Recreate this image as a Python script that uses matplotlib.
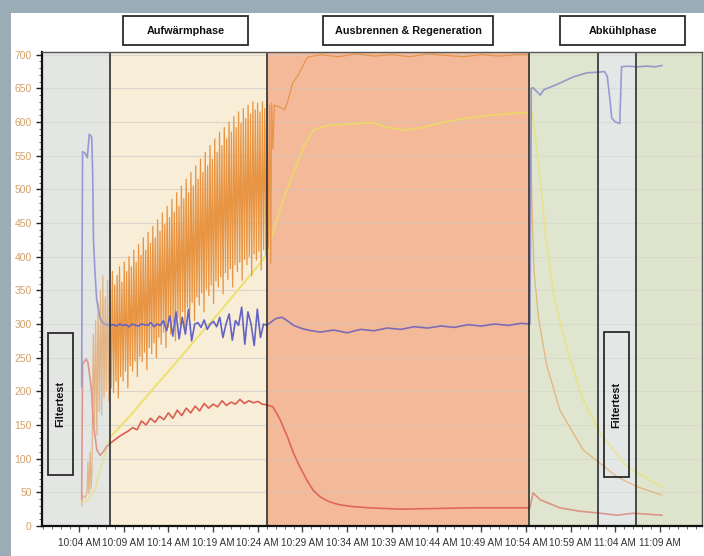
import numpy as np
import matplotlib
matplotlib.use("Agg")
import matplotlib.pyplot as plt
from matplotlib.patches import Rectangle
from matplotlib.ticker import MultipleLocator

plt.rcParams['font.family'] = ['Liberation Sans', 'DejaVu Sans']

# x values are minutes after 10:00
tick_pos = [4, 9, 14, 19, 24, 29, 34, 39, 44, 49, 54, 59, 64, 69]
tick_labels = ["10:04 AM", "10:09 AM", "10:14 AM", "10:19 AM", "10:24 AM", "10:29 AM",
               "10:34 AM", "10:39 AM", "10:44 AM", "10:49 AM", "10:54 AM", "10:59 AM",
               "11:04 AM", "11:09 AM"]

phase_edges = [-0.14, 7.47, 25.0, 54.3, 62.05, 66.3, 73.7]
phase_names = ["Aufwärmphase", "Ausbrennen & Regeneration", "Abkühlphase"]

# blue
blue_t_start = [4.30, 4.34, 4.40, 4.67, 4.93, 5.15, 5.42, 5.53, 5.62, 5.79, 5.98, 6.35, 6.68, 7.10]
blue_v_start = [207, 380, 556, 554, 547, 582, 578, 524, 425, 376, 336, 309, 301, 299]
blue_warm = [298, 299, 297, 300, 298, 299, 296, 300, 298, 297, 300, 299, 298, 302, 296, 300, 298,
             305, 290, 312, 282, 318, 278, 310, 285, 322, 275, 300,
             302, 295, 306, 292, 300, 304, 296,
             310, 280, 300, 315, 276, 305, 298,
             325, 270, 318, 300, 268, 322, 280, 300, 298]
blue_t_burn = [25.5, 26.0, 26.7, 27.3, 28.0, 29.0, 30.0, 31.0, 32.5, 34.0, 35.5, 37.0, 38.5,
               40.0, 41.5, 43.0, 44.5, 46.0, 47.5, 49.0, 50.5, 52.0, 53.5, 54.45]
blue_v_burn = [303, 308, 310, 305, 298, 293, 290, 288, 291, 287, 292, 290, 294,
               292, 296, 294, 297, 295, 299, 297, 300, 298, 301, 300]
blue_t_cool = [54.6, 54.8, 55.6, 56.0, 57.5, 59.3, 60.8, 62.0, 62.8, 63.1, 63.4, 63.6, 64.0,
               64.5, 64.7, 65.3, 66.5, 67.5, 68.5, 69.2]
blue_v_cool = [650, 651, 640, 648, 656, 667, 673, 674, 675, 668, 633, 606, 600,
               598, 682, 683, 682, 683, 682, 684]

# orange
orange_t_start = [4.30, 4.40, 4.70, 4.90, 5.00, 5.10, 5.25, 5.35, 5.45]
orange_v_start = [30, 45, 42, 50, 95, 48, 110, 55, 80]
orange_peaks = [285, 305, 330, 350, 372, 340, 365, 350, 378, 358,
                372, 385, 362, 392, 378, 400, 385, 410, 392, 418,
                402, 428, 410, 436, 420, 445, 428, 455, 438, 465,
                448, 475, 458, 485, 466, 495, 475, 505, 486, 515,
                495, 525, 505, 535, 515, 545, 525, 555, 535, 565,
                545, 575, 555, 585, 565, 592, 575, 600, 585, 608,
                592, 615, 598, 620, 605, 625, 612, 630, 618, 628,
                615, 630, 620, 632, 625]
orange_troughs = [150, 135, 170, 165, 190, 200, 185, 205, 198, 215,
                  190, 222, 215, 230, 205, 238, 230, 245, 222, 252,
                  244, 258, 232, 265, 256, 272, 250, 280, 270, 288,
                  265, 295, 285, 302, 275, 310, 300, 318, 290, 325,
                  314, 332, 305, 340, 328, 346, 318, 352, 342, 358,
                  330, 364, 355, 370, 345, 376, 366, 382, 355, 388,
                  378, 392, 365, 396, 388, 400, 372, 404, 395, 408,
                  380, 410, 402, 412, 390]
orange_t_burn = [25.55, 25.7, 25.85, 26.5, 27.0, 27.4, 27.9, 28.4, 29.0, 29.5, 29.8,
                 31, 33, 35, 37, 39, 41, 43, 45, 47, 49, 51, 53, 54.35]
orange_v_burn = [628, 560, 625, 622, 618, 633, 658, 667, 682, 695, 697,
                 700, 697, 701, 698, 700, 697, 701, 699, 697, 700, 698, 700, 700]
orange_t_cool = [54.45, 54.7, 54.9, 55.4, 56.3, 57.8, 60.4, 64.2, 66.5, 69.2]
orange_v_cool = [600, 470, 380, 310, 240, 172, 113, 73, 58, 46]

# yellow
yellow_t = [4.30, 5.0, 5.8, 6.5, 7.5, 10.0, 12.5, 15.0, 17.5, 20.0, 22.5, 25.0,
            26.0, 27.0, 28.0, 28.7, 29.2, 30.2, 31.5, 33.0, 36.8, 38.5, 40.5, 42.5,
            45.0, 47.5, 50.0, 52.5, 54.7, 55.1, 55.6, 56.2, 57.2, 58.6, 60.4, 62.3,
            65.3, 69.2]
yellow_v = [35, 38, 55, 90, 132, 168, 207, 245, 284, 322, 362, 402,
            450, 490, 525, 548, 565, 588, 594, 596, 599, 592, 588, 592,
            600, 606, 610, 613, 614, 573, 515, 430, 336, 262, 187, 138,
            88, 58]

# red
red_t_start = [4.30, 4.40, 4.80, 5.00, 5.40, 5.60, 6.00, 6.35, 6.70, 7.10]
red_v_start = [40, 240, 248, 243, 202, 153, 113, 105, 110, 118]
red_warm = [123, 128, 133, 137, 141, 146, 143, 156, 150, 160, 154, 163, 158, 168, 160, 172,
            164, 175, 168, 178, 171, 182, 175, 181, 177, 186, 179, 184, 181, 188, 182, 186,
            183, 185, 181, 180]
red_t_rest = [25.7, 26.5, 27.3, 28.0, 28.7, 29.5, 30.2, 31.0, 32.0, 33.0, 34.5, 36.5, 40.0,
              44.0, 48.0, 52.0, 54.45, 54.8, 55.6, 57.8, 60.0, 62.3, 64.2, 66.0, 69.2]
red_v_rest = [177, 158, 133, 108, 88, 68, 53, 43, 36, 32, 29, 27, 25,
              26, 27, 27, 27, 49, 39, 27, 22, 19, 16, 19, 16]

bg_colors = ["#e3e6e3", "#f8edd6", "#f3b999", "#dfe5cf", "#e3e8e6", "#dfe4cc"]
bg_alpha = [0.5, 0.15, 0.3, 0.5, 0.5, 0.5]

# assemble series
osc = np.empty(len(orange_peaks) * 2)
osc[0::2] = orange_peaks
osc[1::2] = orange_troughs
osc_t = 5.6 + (25.45 - 5.6) / (len(osc) - 1) * np.arange(len(osc))
orange_t = np.concatenate([orange_t_start, osc_t, orange_t_burn, orange_t_cool])
orange_v = np.concatenate([orange_v_start, osc, orange_v_burn, orange_v_cool])

blue_t = np.concatenate([blue_t_start, 7.5 + 0.35 * np.arange(len(blue_warm)), blue_t_burn, blue_t_cool])
blue_v = np.concatenate([blue_v_start, blue_warm, blue_v_burn, blue_v_cool])

red_t = np.concatenate([red_t_start, 7.5 + 0.5 * np.arange(len(red_warm)), red_t_rest])
red_v = np.concatenate([red_v_start, red_warm, red_v_rest])

W, H = 704, 556
fig = plt.figure(figsize=(W / 100, H / 100), dpi=100, facecolor="#9aacb6")
fig.add_artist(Rectangle((11 / W, 0), 1 - 11 / W, 543 / H, transform=fig.transFigure,
                         facecolor="white", edgecolor="none", zorder=-1))
ax = fig.add_axes([42 / W, 30 / H, 660 / W, 474 / H])

for i in range(len(bg_colors)):
    ax.axvspan(phase_edges[i], phase_edges[i + 1], color=bg_colors[i], lw=0, zorder=0)
    ax.axvspan(phase_edges[i], phase_edges[i + 1], color=bg_colors[i], lw=0,
               alpha=bg_alpha[i], zorder=3)

ax.plot(yellow_t, yellow_v, color="#ece05a", lw=1.4, zorder=2.0)
ax.plot(orange_t, orange_v, color="#e5852a", lw=0.9, zorder=2.1)
ax.plot(red_t, red_v, color="#d8453a", lw=1.2, zorder=2.2)
ax.plot(blue_t, blue_v, color="#4b4cc2", lw=1.2, zorder=2.3)

for x in phase_edges[1:-1]:
    ax.axvline(x, color="#2f2f2f", lw=1.2, zorder=4)

ax.set_xlim(phase_edges[0], phase_edges[-1])
ax.set_ylim(0, 704)
ax.set_axisbelow(True)
ax.yaxis.grid(True, color="#c9c9c9", lw=0.8, alpha=0.7)
ax.set_yticks(range(0, 701, 50))
ax.yaxis.set_minor_locator(MultipleLocator(10))
ax.set_xticks(tick_pos, tick_labels)
ax.xaxis.set_minor_locator(MultipleLocator(1))
ax.tick_params(axis='y', which='major', labelsize=7.5, labelcolor="#d4a068", length=4, width=1, color="#222")
ax.tick_params(axis='y', which='minor', length=2, width=0.6, color="#444")
ax.tick_params(axis='x', which='major', labelsize=7.2, labelcolor="#333333", length=4, width=1, color="#444", pad=5)
ax.tick_params(axis='x', which='minor', length=2.5, width=0.6, color="#555")
for side in ["left", "bottom"]:
    ax.spines[side].set_linewidth(1.6)
    ax.spines[side].set_color("#111111")
for side in ["top", "right"]:
    ax.spines[side].set_linewidth(1.0)
    ax.spines[side].set_color("#555555")
for s in ax.spines.values():
    s.set_zorder(6)


def label_box(x0, y0, w, h, text, rot=0, face="white"):
    fig.add_artist(Rectangle((x0 / W, 1 - (y0 + h) / H), w / W, h / H, transform=fig.transFigure,
                             facecolor=face, edgecolor="#2b2b2b", lw=1.3, zorder=5))
    fig.text((x0 + w / 2) / W, 1 - (y0 + h / 2) / H, text, rotation=rot, ha='center', va='center',
             fontsize=7.8, fontweight='bold', color="#111111", zorder=6)


label_box(123, 16, 125, 29, phase_names[0])
label_box(323, 16, 170, 29, phase_names[1])
label_box(560, 16, 125, 29, phase_names[2])
label_box(48, 333, 25, 142, "Filtertest", rot=90, face="none")
label_box(604, 332, 25, 145, "Filtertest", rot=90, face="none")

fig.savefig("out.png", dpi=100, facecolor=fig.get_facecolor())
